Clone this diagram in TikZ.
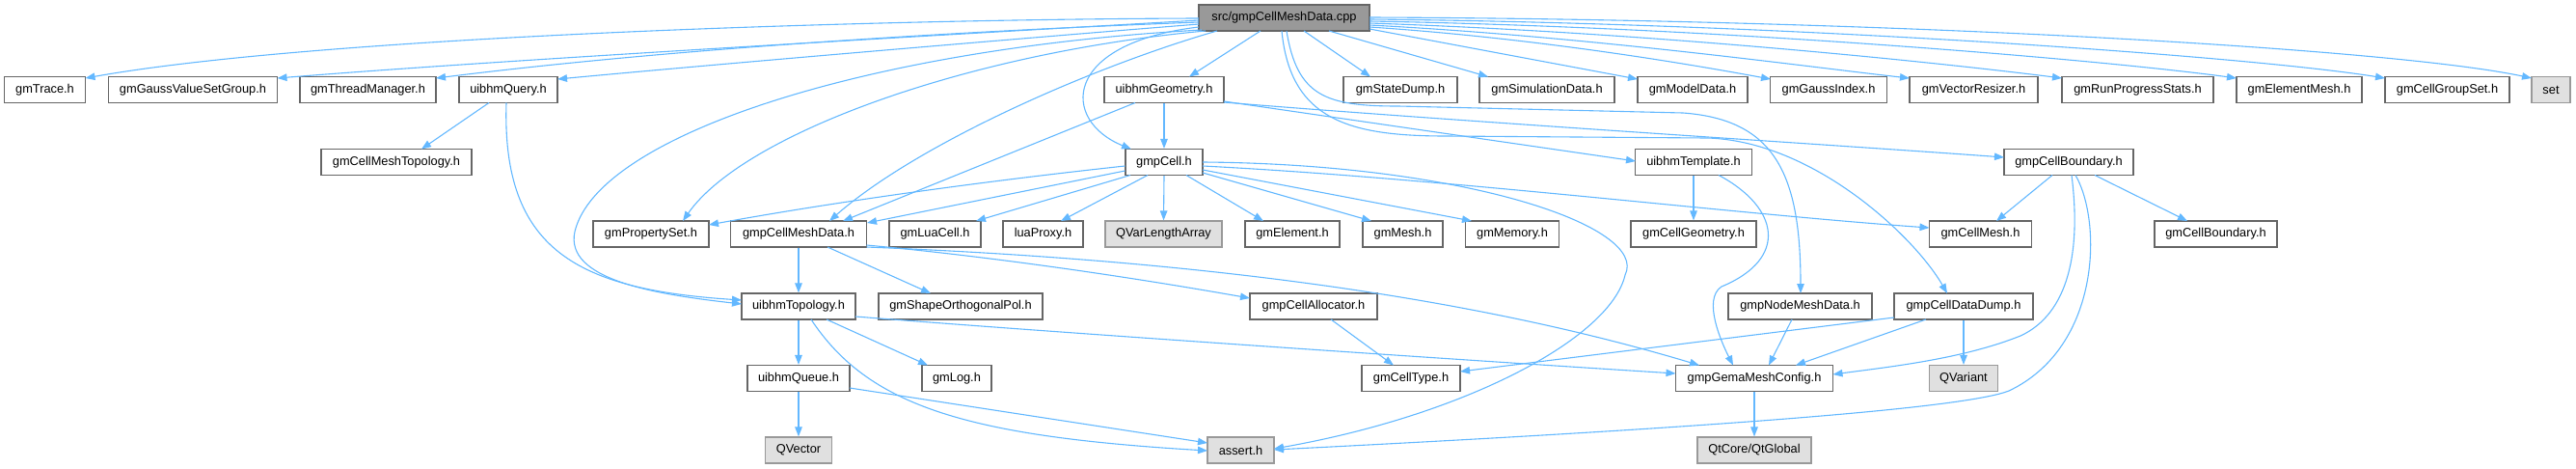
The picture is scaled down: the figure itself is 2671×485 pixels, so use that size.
\documentclass[tikz,border=0pt]{standalone}
\usepackage{fontspec}
\setmainfont{Liberation Sans}
\usetikzlibrary{arrows.meta,calc}
\definecolor{edgec}{HTML}{63B8FF}
\definecolor{bordc}{HTML}{666666}
\definecolor{extb}{HTML}{999999}
\definecolor{extf}{HTML}{E0E0E0}
\definecolor{srcf}{HTML}{999999}
\tikzset{
  box/.style={draw=bordc, fill=white, line width=1.2pt, minimum height=27pt, inner sep=0pt,
    font=\fontsize{12.8}{15}\selectfont, text=black, anchor=center},
  extbox/.style={box, draw=extb, fill=extf},
  srcbox/.style={box, fill=srcf},
  edge/.style={draw=edgec, line width=1.1pt, -{Triangle[length=10pt,width=7.5pt]}},
}
\begin{document}
\begin{tikzpicture}[x=1pt,y=-1pt]
\useasboundingbox (0,0) rectangle (2671,485);
% row 0
\node[srcbox, minimum width=177pt] (src) at (1331.5,18.5) {src/gmpCellMeshData.cpp};
% row 1
\node[box, minimum width=84pt]  (gTr)  at (46.5,93)   {gmTrace.h};
\node[box, minimum width=175pt] (gGV)  at (200,93)    {gmGaussValueSetGroup.h};
\node[box, minimum width=141pt] (gTM)  at (381.5,93)  {gmThreadManager.h};
\node[box, minimum width=102pt] (uQ)   at (527,93)    {uibhmQuery.h};
\node[box, minimum width=124pt] (uG)   at (1207,93)   {uibhmGeometry.h};
\node[box, minimum width=118pt] (gSD)  at (1452,93)   {gmStateDump.h};
\node[box, minimum width=140pt] (gSim) at (1604,93)   {gmSimulationData.h};
\node[box, minimum width=114pt] (gMD)  at (1755,93)   {gmModelData.h};
\node[box, minimum width=121pt] (gGI)  at (1896,93)   {gmGaussIndex.h};
\node[box, minimum width=133pt] (gVR)  at (2046.5,93) {gmVectorResizer.h};
\node[box, minimum width=157pt] (gRPS) at (2216.5,93) {gmRunProgressStats.h};
\node[box, minimum width=130pt] (gEM)  at (2384,93)   {gmElementMesh.h};
\node[box, minimum width=129pt] (gCGS) at (2537.5,93) {gmCellGroupSet.h};
\node[extbox, minimum width=40pt] (setn) at (2645,93) {set};
% row 2
\node[box, minimum width=156pt] (gCMT) at (411,168)   {gmCellMeshTopology.h};
\node[box, minimum width=80pt]  (gpC)  at (1207,168)  {gmpCell.h};
\node[box, minimum width=121pt] (uT)   at (1756,168)  {uibhmTemplate.h};
\node[box, minimum width=134pt] (gpCB) at (2145,168)  {gmpCellBoundary.h};
% row 3
\node[box, minimum width=120pt] (gPS)   at (675,242.5)    {gmPropertySet.h};
\node[box, minimum width=141pt] (gpCMD) at (828,242.5)    {gmpCellMeshData.h};
\node[box, minimum width=95pt]  (gLC)   at (969.5,242.5)  {gmLuaCell.h};
\node[box, minimum width=83pt]  (lP)    at (1081.5,242.5) {luaProxy.h};
\node[extbox, minimum width=121pt] (qVLA) at (1206.5,242.5) {QVarLengthArray};
\node[box, minimum width=98pt]  (gEl)   at (1340,242.5)   {gmElement.h};
\node[box, minimum width=83pt]  (gMe)   at (1454.5,242.5) {gmMesh.h};
\node[box, minimum width=97pt]  (gMem)  at (1568,242.5)   {gmMemory.h};
\node[box, minimum width=130pt] (gCG)   at (1756,242.5)   {gmCellGeometry.h};
\node[box, minimum width=106pt] (gCM)   at (2053.5,242.5) {gmCellMesh.h};
\node[box, minimum width=127pt] (gCB)   at (2297.5,242.5) {gmCellBoundary.h};
% row 4
\node[box, minimum width=118pt] (uTo)   at (828,317.5)    {uibhmTopology.h};
\node[box, minimum width=170pt] (gSOP)  at (996,317.5)    {gmShapeOrthogonalPol.h};
\node[box, minimum width=132pt] (gpCA)  at (1362,317.5)   {gmpCellAllocator.h};
\node[box, minimum width=149pt] (gpNMD) at (1866.5,317.5) {gmpNodeMeshData.h};
\node[box, minimum width=144pt] (gpCDD) at (2036,317.5)   {gmpCellDataDump.h};
% row 5
\node[box, minimum width=106pt] (uQu)   at (828,392)   {uibhmQueue.h};
\node[box, minimum width=72pt]  (gLog)  at (992,392)   {gmLog.h};
\node[box, minimum width=102pt] (gCT)   at (1463,392)  {gmCellType.h};
\node[box, minimum width=163pt] (gpGMC) at (1819,392)  {gmpGemaMeshConfig.h};
\node[extbox, minimum width=71.5pt] (qVar) at (2036,392) {QVariant};
% row 6
\node[extbox, minimum width=68.5pt] (qVec) at (828,466.5)    {QVector};
\node[extbox, minimum width=69pt]   (asrt) at (1286.5,466.5) {assert.h};
\node[extbox, minimum width=118pt]  (qtG)  at (1819,466.5)   {QtCore/QtGlobal};

% ---- edges from src ----
\draw[edge] ($(src)+(-88.5,0.5)$) .. controls (900,20) and (330,38) .. ($(gTr)+(42,-12)$);
\draw[edge] ($(src)+(-88.5,2.5)$) .. controls (1000,35) and (520,62) .. ($(gGV)+(87.5,-12)$);
\draw[edge] ($(src)+(-88.5,4.5)$) .. controls (1000,32) and (700,50) .. ($(gTM)+(70.5,-12)$);
\draw[edge] ($(src)+(-88.5,6.5)$) .. controls (1080,38) and (760,65) .. ($(uQ)+(51,-11)$);
\draw[edge] ($(src)+(-81.5,13.5)$) .. controls (1000,55) and (770,140) .. ($(gPS)+(33,-13.5)$);
\draw[edge] ($(src)+(-69.5,13.5)$) .. controls (1130,70) and (950,150) .. ($(gpCMD)+(32,-13.5)$);
\draw[edge] ($(src)+(-85.5,12.5)$) .. controls (900,50) and (620,140) .. (596,240)
            .. controls (585,290) and (680,305) .. ($(uTo)+(-59,-2.5)$);
\draw[edge] ($(src)+(-88.5,9.5)$) .. controls (1100,45) and (1100,125) .. ($(gpC)+(-34,-13.5)$);
\draw[edge] ($(src)+(-24.5,13.5)$) -- ($(uG)+(26,-13.5)$);
\draw[edge] ($(src)+(20.5,13.5)$) -- ($(gSD)+(-31,-13.5)$);
\draw[edge] ($(src)+(46.5,13.5)$) -- ($(gSim)+(-61,-13.5)$);
\draw[edge] ($(src)+(88.5,11.5)$) -- ($(gMD)+(-57,-11)$);
\draw[edge] ($(src)+(88.5,9.5)$) .. controls (1600,40) and (1760,68) .. ($(gGI)+(-60,-11)$);
\draw[edge] ($(src)+(88.5,7.5)$) .. controls (1650,38) and (1880,70) .. ($(gVR)+(-66.5,-12)$);
\draw[edge] ($(src)+(88.5,5.5)$) .. controls (1720,34) and (2020,66) .. ($(gRPS)+(-78.5,-12)$);
\draw[edge] ($(src)+(88.5,3.5)$) .. controls (1780,28) and (2180,62) .. ($(gEM)+(-65,-12)$);
\draw[edge] ($(src)+(88.5,1.5)$) .. controls (1850,24) and (2330,58) .. ($(gCGS)+(-64.5,-12)$);
\draw[edge] ($(src)+(88.5,-0.5)$) .. controls (1950,20) and (2480,50) .. ($(setn)+(-20,-12)$);
\draw[edge] ($(src)+(2.5,13.5)$) .. controls (1345,100) and (1375,110) .. (1450,110)
            -- (1745,117) .. controls (1840,124) and (1867,180) .. ($(gpNMD)+(0.5,-13.5)$);
\draw[edge] ($(src)+(-2.5,13.5)$) .. controls (1338,125) and (1400,141) .. (1500,141)
            -- (1770,143) .. controls (1880,146) and (1985,245) .. ($(gpCDD)+(-17,-13.5)$);

% ---- uibhmGeometry ----
\draw[edge] (uG.south) -- (gpC.north);
\draw[edge] ($(uG)+(-30,13.5)$) -- ($(gpCMD)+(46,-13.5)$);
\draw[edge] ($(uG)+(62,12)$) -- ($(uT)+(-60,-1)$);
\draw[edge] ($(uG)+(62,13)$) .. controls (1500,125) and (1900,150) .. ($(gpCB)+(-67,-5)$);

% ---- gmpCell ----
\draw[edge] ($(gpC)+(-40.5,4)$) .. controls (1000,190) and (850,212) .. ($(gPS)+(60,-9.5)$);
\draw[edge] ($(gpC)+(-40.5,9)$) -- ($(gpCMD)+(71,-11.5)$);
\draw[edge] ($(gpC)+(-35,13.5)$) -- ($(gLC)+(42.5,-13.5)$);
\draw[edge] ($(gpC)+(-17,13.5)$) -- ($(lP)+(18.5,-13.5)$);
\draw[edge] (gpC.south) -- (qVLA.north);
\draw[edge] ($(gpC)+(23,13.5)$) -- ($(gEl)+(-30,-13.5)$);
\draw[edge] ($(gpC)+(40,11)$) -- ($(gMe)+(-32.5,-13.5)$);
\draw[edge] ($(gpC)+(40,8)$) -- ($(gMem)+(-42,-13.5)$);
\draw[edge] ($(gpC)+(40,4)$) .. controls (1500,185) and (1800,222) .. ($(gCM)+(-53,-6.5)$);
\draw[edge] ($(gpC)+(40,0)$) .. controls (1520,170) and (1710,235) .. (1685,285)
            .. controls (1670,350) and (1520,430) .. ($(asrt)+(34.5,-1.5)$);

% ---- uibhmQuery ----
\draw[edge] ($(uQ)+(-20,13.5)$) -- ($(gCMT)+(26,-13.5)$);
\draw[edge] ($(uQ)+(-2,13.5)$) .. controls (520,260) and (600,300) .. ($(uTo)+(-59,-6.5)$);

% ---- gmpCellMeshData ----
\draw[edge] (gpCMD.south) -- (uTo.north);
\draw[edge] ($(gpCMD)+(30,13.5)$) -- ($(gSOP)+(-31,-13.5)$);
\draw[edge] ($(gpCMD)+(70.5,11.5)$) .. controls (1050,268) and (1200,292) .. ($(gpCA)+(-66,-8.5)$);
\draw[edge] ($(gpCMD)+(70.5,13.5)$) .. controls (1200,268) and (1500,300) .. ($(gpGMC)+(-57,-13.5)$);

% ---- uibhmTopology ----
\draw[edge] (uTo.south) -- (uQu.north);
\draw[edge] ($(uTo)+(29,13.5)$) -- ($(gLog)+(-30,-13.5)$);
\draw[edge] ($(uTo)+(13,13.5)$) .. controls (900,420) and (1000,452) .. ($(asrt)+(-34.5,0.5)$);
\draw[edge] ($(uTo)+(59,10.5)$) .. controls (1100,345) and (1500,372) .. ($(gpGMC)+(-81.5,-5)$);

% ---- uibhmQueue ----
\draw[edge] (uQu.south) -- (qVec.north);
\draw[edge] ($(uQu)+(53,10)$) -- ($(asrt)+(-34.5,-7.5)$);

% ---- others ----
\draw[edge] ($(gpCA)+(18,13.5)$) -- ($(gCT)+(-18,-13.5)$);
\draw[edge] ($(gpNMD)+(-8.5,13.5)$) -- ($(gpGMC)+(15,-13.5)$);
\draw[edge] (uT.south) -- (gCG.north);
\draw[edge] ($(uT)+(26,13.5)$) .. controls (1845,215) and (1855,268) .. (1785,297)
            .. controls (1765,310) and (1785,355) .. ($(gpGMC)+(-22,-13.5)$);
\draw[edge] ($(gpCB)+(-17,13.5)$) -- ($(gCM)+(16.5,-13.5)$);
\draw[edge] ($(gpCB)+(27,13.5)$) -- ($(gCB)+(-29.5,-13.5)$);
\draw[edge] ($(gpCB)+(3,13.5)$) .. controls (2158,260) and (2145,325) .. (2095,348)
            .. controls (2035,372) and (1960,380) .. ($(gpGMC)+(81.5,-4)$);
\draw[edge] ($(gpCB)+(7,13.5)$) .. controls (2180,230) and (2178,360) .. (2083,405)
            .. controls (2040,422) and (1800,442) .. ($(asrt)+(34.5,-0.5)$);
\draw[edge] ($(gpCDD)+(-72,11.5)$) -- ($(gCT)+(51,-7)$);
\draw[edge] ($(gpCDD)+(-39,13.5)$) -- ($(gpGMC)+(43,-13.5)$);
\draw[edge] (gpCDD.south) -- (qVar.north);
\draw[edge] (gpGMC.south) -- (qtG.north);
\end{tikzpicture}
\end{document}
